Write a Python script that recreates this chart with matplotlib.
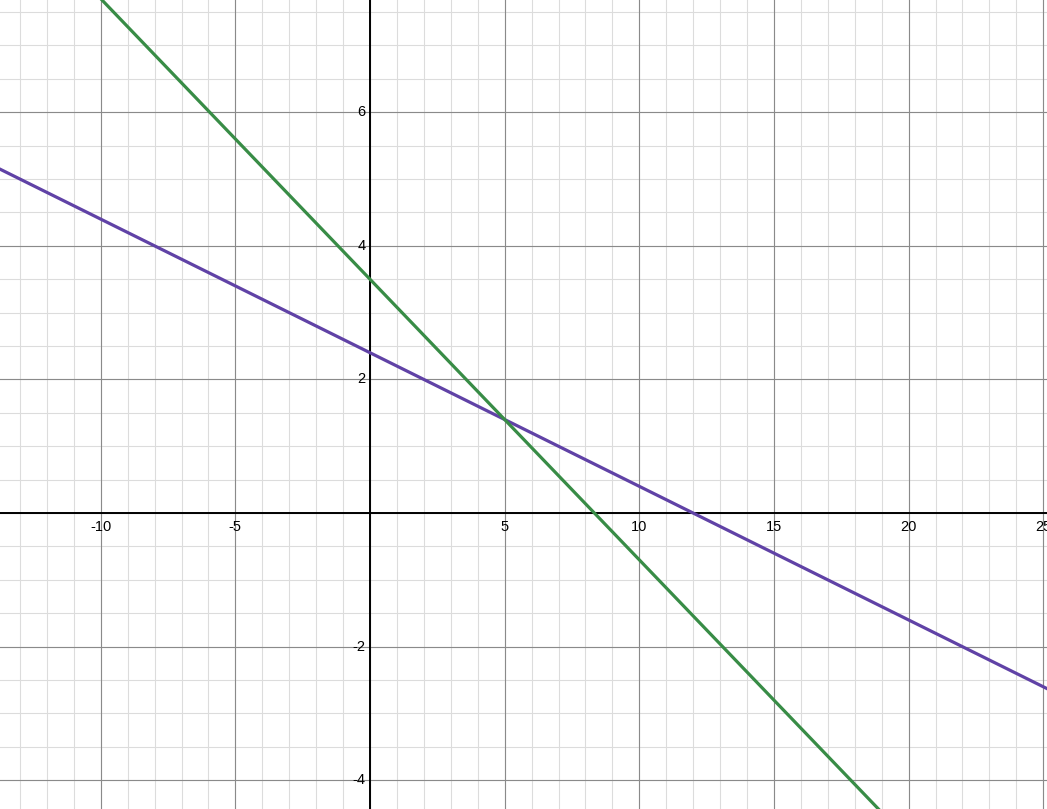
import matplotlib.pyplot as plt
import numpy as np

# line endpoints
purple_x = [-15, 30]
purple_y = [5.4, -3.6]
green_x = [-15, 25]
green_y = [9.8, -7.0]

x_ticks = [-10, -5, 5, 10, 15, 20, 25]
y_ticks = [-4, -2, 2, 4, 6]

purple = "#6042a6"
green = "#388c46"

xmin, xmax = -13.74, 25.14
ymin, ymax = -4.43, 7.68

fig = plt.figure(figsize=(10.47, 8.09), dpi=100)
ax = fig.add_axes([0, 0, 1, 1])
ax.set_xlim(xmin, xmax)
ax.set_ylim(ymin, ymax)
ax.axis('off')

# minor grid
for x in np.arange(-14, 26, 1):
    ax.axvline(x, color="#dcdcdc", lw=0.8, zorder=0)
for y in np.arange(-4.5, 8, 0.5):
    ax.axhline(y, color="#dcdcdc", lw=0.8, zorder=0)
# major grid
for x in np.arange(-10, 26, 5):
    ax.axvline(x, color="#8a8a8a", lw=0.8, zorder=1)
for y in np.arange(-4, 8, 2):
    ax.axhline(y, color="#8a8a8a", lw=0.8, zorder=1)

ax.axhline(0, color="black", lw=1.4, zorder=2)
ax.axvline(0, color="black", lw=1.4, zorder=2)

ax.plot(purple_x, purple_y, color=purple, lw=2.3, zorder=3)
ax.plot(green_x, green_y, color=green, lw=2.3, zorder=3)

font = dict(family="Liberation Sans", fontsize=10.5)
for t in x_ticks:
    ax.annotate(str(t), (t, 0), xytext=(0, -5), textcoords="offset points",
                ha="center", va="top", zorder=4, **font)
for t in y_ticks:
    ax.annotate(str(t), (0, t), xytext=(-3, 0), textcoords="offset points",
                ha="right", va="center", zorder=4, **font)

fig.savefig("out.png", dpi=100)
